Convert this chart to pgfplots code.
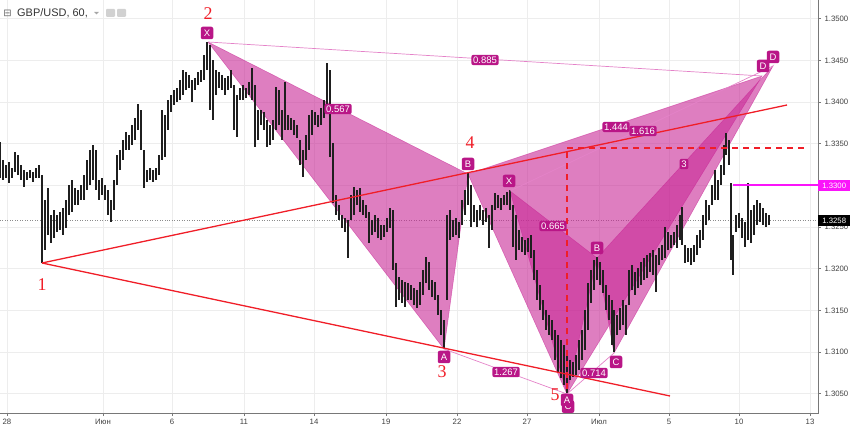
\documentclass[border=0pt]{standalone}
\usepackage{pgfplots}
\pgfplotsset{compat=1.18}
\usepackage{pgfplotstable}
\usepackage{fontspec}
\setmainfont{Liberation Sans}
\newfontfamily\serifnum{Liberation Serif}
\newfontfamily\dejavu{DejaVu Sans}
\definecolor{pat}{RGB}{200,40,150}
\definecolor{patlbl}{RGB}{185,22,135}
\definecolor{patline}{RGB}{228,130,200}
\definecolor{tvred}{RGB}{240,30,40}
\definecolor{tvmag}{RGB}{250,20,250}
\definecolor{axgray}{RGB}{120,120,120}
\pgfplotstableread{
x hi lo
0 1.33521 1.33089
3 1.33305 1.33065
6 1.33245 1.33089
9 1.33281 1.33029
12 1.33209 1.33089
15 1.33401 1.33161
18 1.33365 1.33125
21 1.33245 1.33065
24 1.33185 1.32981
27 1.33161 1.33065
30 1.33185 1.33089
33 1.33161 1.33041
36 1.33209 1.33089
39 1.33245 1.33089
42 1.33125 1.32069
45 1.32825 1.32225
48 1.32969 1.32405
51 1.32645 1.32309
54 1.32705 1.32369
57 1.32645 1.32441
60 1.32681 1.32465
63 1.32729 1.32405
66 1.32825 1.32489
69 1.33005 1.32645
72 1.33065 1.32681
75 1.32969 1.32765
78 1.32945 1.32765
81 1.33005 1.32825
84 1.33125 1.32825
87 1.33305 1.32945
90 1.33425 1.33005
93 1.33485 1.33065
96 1.33425 1.32945
99 1.33065 1.32825
102 1.33089 1.32885
105 1.33005 1.32825
108 1.32945 1.32645
111 1.32825 1.32561
114 1.33065 1.32705
117 1.33365 1.33005
120 1.33425 1.33185
123 1.33545 1.33305
126 1.33641 1.33425
129 1.33605 1.33425
132 1.33725 1.33485
135 1.33809 1.33545
138 1.33977 1.33665
141 1.33905 1.33425
144 1.33425 1.32969
147 1.33185 1.33041
150 1.33209 1.33065
153 1.33185 1.33041
156 1.33209 1.33065
159 1.33365 1.33125
162 1.33905 1.33305
165 1.33845 1.33341
168 1.34025 1.33665
171 1.34085 1.33881
174 1.34145 1.33965
177 1.34169 1.34001
180 1.34265 1.34025
183 1.34385 1.34085
186 1.34361 1.34145
189 1.34325 1.34169
192 1.34265 1.34001
195 1.34289 1.34145
198 1.34361 1.34205
201 1.34385 1.34241
204 1.34565 1.34265
207 1.34721 1.34385
210 1.34685 1.33905
213 1.34505 1.33785
216 1.34385 1.34085
219 1.34361 1.34169
222 1.34325 1.34145
225 1.34289 1.34085
228 1.34313 1.34145
231 1.34385 1.34169
234 1.34205 1.33665
237 1.34085 1.33581
240 1.34169 1.34025
243 1.34205 1.34025
246 1.34169 1.34049
249 1.34241 1.34085
252 1.34409 1.34025
255 1.34205 1.33461
258 1.33905 1.33545
261 1.33905 1.33725
264 1.33881 1.33665
267 1.33785 1.33461
270 1.33725 1.33485
273 1.33785 1.33545
276 1.34181 1.33665
279 1.34145 1.33725
282 1.33905 1.33545
285 1.34241 1.33665
288 1.33845 1.33665
291 1.33809 1.33665
294 1.33785 1.33605
297 1.33725 1.33569
300 1.33545 1.33245
303 1.33425 1.33101
306 1.33605 1.33305
309 1.33845 1.33425
312 1.33905 1.33605
315 1.33881 1.33725
318 1.33845 1.33701
321 1.33929 1.33725
324 1.34025 1.33809
327 1.34469 1.33905
330 1.34385 1.33341
333 1.33509 1.32789
336 1.32885 1.32645
339 1.32765 1.32585
342 1.32645 1.32489
345 1.32609 1.32441
348 1.32585 1.32129
351 1.32885 1.32585
354 1.32981 1.32645
357 1.32945 1.32765
360 1.32969 1.32681
363 1.32825 1.32645
366 1.32765 1.32609
369 1.32681 1.32309
372 1.32585 1.32405
375 1.32645 1.32441
378 1.32609 1.32369
381 1.32525 1.32345
384 1.32525 1.32381
387 1.32609 1.32441
390 1.32729 1.32489
393 1.32705 1.31985
396 1.32069 1.31541
399 1.31901 1.31625
402 1.31865 1.31589
405 1.31841 1.31541
408 1.31829 1.31625
411 1.31805 1.31625
414 1.31769 1.31565
417 1.31745 1.31529
420 1.31841 1.31565
423 1.31985 1.31685
426 1.32141 1.31829
429 1.32081 1.31745
432 1.31865 1.31661
435 1.31841 1.31625
438 1.31685 1.31445
441 1.31505 1.31205
444 1.31385 1.31049
447 1.32645 1.31625
450 1.32705 1.32345
453 1.32585 1.32381
456 1.32609 1.32405
459 1.32561 1.32369
462 1.32825 1.32525
465 1.32945 1.32645
468 1.33149 1.32765
471 1.33005 1.32501
474 1.32765 1.32561
477 1.32705 1.32501
480 1.32765 1.32585
483 1.32705 1.32525
486 1.32729 1.32561
489 1.32645 1.32249
492 1.32765 1.32465
495 1.32909 1.32705
498 1.32885 1.32729
501 1.32849 1.32705
504 1.32885 1.32765
507 1.32921 1.32765
510 1.32945 1.32705
513 1.32765 1.32261
516 1.32645 1.32105
519 1.32465 1.32225
522 1.32381 1.32201
525 1.32345 1.32165
528 1.32369 1.32201
531 1.32405 1.32129
534 1.32225 1.31865
537 1.31985 1.31625
540 1.31805 1.31505
543 1.31625 1.31385
546 1.31505 1.31265
549 1.31445 1.31205
552 1.31385 1.31145
555 1.31265 1.30905
558 1.31205 1.30761
561 1.31145 1.30689
564 1.31085 1.30605
567 1.30965 1.30509
570 1.30905 1.30665
573 1.30881 1.30701
576 1.30965 1.30725
579 1.31145 1.30785
582 1.31265 1.30905
585 1.31505 1.31025
588 1.31829 1.31265
591 1.31985 1.31589
594 1.32105 1.31745
597 1.32141 1.31865
600 1.32081 1.31805
603 1.31985 1.31709
606 1.31805 1.31505
609 1.31685 1.31385
612 1.31625 1.31085
614 1.31505 1.31001
617 1.31445 1.31205
620 1.31529 1.31265
623 1.31625 1.31325
626 1.31565 1.31205
629 1.31985 1.31565
632 1.32045 1.31745
635 1.31961 1.31685
638 1.32009 1.31769
641 1.32081 1.31805
644 1.32129 1.31865
647 1.32165 1.31889
650 1.32189 1.31961
653 1.32225 1.31925
656 1.32165 1.31721
659 1.32249 1.32045
662 1.32285 1.32105
665 1.32501 1.32129
668 1.32441 1.32225
671 1.32405 1.32249
674 1.32441 1.32285
677 1.32525 1.32249
680 1.32645 1.32345
682 1.32741 1.32285
685 1.32285 1.32069
688 1.32249 1.32081
691 1.32249 1.32045
694 1.32285 1.32081
697 1.32405 1.32165
700 1.32465 1.32249
703 1.32645 1.32345
706 1.32825 1.32525
709 1.32765 1.32585
712 1.33005 1.32765
715 1.33185 1.32825
718 1.33065 1.32825
721 1.33245 1.33005
724 1.33485 1.33125
726 1.33629 1.33365
729 1.33545 1.33245
731 1.33029 1.32105
733 1.32405 1.31925
736 1.32645 1.32441
739 1.32669 1.32489
742 1.32609 1.32369
745 1.32561 1.32261
748 1.33029 1.32345
751 1.32705 1.32309
754 1.32765 1.32405
757 1.32825 1.32525
760 1.32789 1.32561
763 1.32729 1.32525
766 1.32669 1.32501
769 1.32645 1.32525
}\bars
\tikzset{
  lbl/.style={fill=patlbl, text=white, rounded corners=2bp, inner sep=1.8bp, font=\fontsize{9.5}{10}\selectfont},
  ltr/.style={lbl, minimum width=12.5bp, minimum height=12.5bp, inner sep=0.5bp},
  rnum/.style={text=tvred, font=\serifnum\fontsize{18}{18}\selectfont},
}
\begin{document}
\begin{tikzpicture}
\useasboundingbox (0,0) rectangle (850bp,427bp);
\begin{axis}[
  at={(0,14bp)}, anchor=south west,
  scale only axis, width=818bp, height=413bp,
  xmin=0, xmax=818, ymin=1.30269, ymax=1.35225,
  axis line style={draw=none},
  xtick pos=bottom, ytick pos=right, yticklabel pos=right,
  xtick={7,103,172,244,314,386,457,527,599,669,739,810},
  xticklabels={28,Июн,6,11,14,19,22,27,Июл,5,10,13},
  ytick={1.305,1.31,1.315,1.32,1.325,1.33,1.335,1.34,1.345,1.35},
  yticklabels={1.3050,1.3100,1.3150,1.3200,1.3250,{},1.3350,1.3400,1.3450,1.3500},
  grid=major, major grid style={draw=black!7, line width=0.6bp},
  tick align=outside, major tick length=3bp,
  tick style={draw=axgray, line width=0.5bp},
  ticklabel style={font=\fontsize{7.8}{9}\selectfont, text=black!75},
  clip=false,
]
% frame lines
\draw[axgray, line width=0.8bp] (rel axis cs:0,0) -- (rel axis cs:1,0) -- (rel axis cs:1,1);
% last price line
\addplot[draw=black!45, dotted, line width=0.5bp] coordinates {(0,1.3258) (818,1.3258)};
% pattern 1 fills
\addplot[fill=pat, fill opacity=0.6, draw=pat, draw opacity=0.6, line width=0.5bp]
  coordinates {(208,1.34721) (444,1.31037) (468,1.33137) (208,1.34721)};
\addplot[fill=pat, fill opacity=0.6, draw=pat, draw opacity=0.6, line width=0.5bp]
  coordinates {(468,1.33137) (567,1.30497) (762,1.34313) (468,1.33137)};
% pattern 2 fills
\addplot[fill=pat, fill opacity=0.6, draw=pat, draw opacity=0.6, line width=0.5bp]
  coordinates {(510,1.32933) (567,1.30497) (597,1.32129) (510,1.32933)};
\addplot[fill=pat, fill opacity=0.6, draw=pat, draw opacity=0.6, line width=0.5bp]
  coordinates {(597,1.32129) (614,1.30989) (773,1.34433) (597,1.32129)};
% price bars (low to high)
\addplot[draw=none, mark=none, error bars/.cd, y dir=plus, y explicit, error mark=none,
  error bar style={draw=black!88, line width=1.5bp}]
  table[x=x, y=lo, y error plus expr=\thisrow{hi}-\thisrow{lo}] {\bars};
% magenta level
\addplot[draw=tvmag, line width=2bp, mark=none] coordinates {(733,1.3300) (818,1.3300)};
% thin ratio lines
\addplot[draw=patline, line width=0.7bp] coordinates {(208,1.34721) (762,1.34313)};
\addplot[draw=patline, line width=0.7bp] coordinates {(444,1.31037) (567,1.30497)};
\addplot[draw=patline, line width=0.7bp] coordinates {(510,1.32933) (773,1.34433)};
\addplot[draw=patline, line width=0.7bp] coordinates {(567,1.30497) (614,1.30989)};
% red trend lines
\addplot[draw=tvred, line width=1.3bp] coordinates {(42,1.32069) (787,1.33965)};
\addplot[draw=tvred, line width=1.3bp] coordinates {(42,1.32069) (670,1.30473)};
\addplot[draw=tvred, line width=1.2bp, dash pattern=on 6bp off 5bp] coordinates {(567,1.30425) (567,1.33449)};
\addplot[draw=tvred, line width=1.2bp, dash pattern=on 6bp off 5bp] coordinates {(567,1.33449) (808,1.33449)};
% red wave numbers
\node[rnum] at (axis cs:42,1.31805) {1};
\node[rnum] at (axis cs:208,1.35057) {2};
\node[rnum] at (axis cs:442,1.30761) {3};
\node[rnum] at (axis cs:470,1.33509) {4};
\node[rnum] at (axis cs:555,1.30485) {5};
% pattern point labels
\node[ltr] at (axis cs:207,1.34829) {X};
\node[ltr] at (axis cs:468,1.33257) {B};
\node[ltr] at (axis cs:444,1.30941) {A};
\node[ltr] at (axis cs:509,1.33053) {X};
\node[ltr] at (axis cs:597,1.32249) {B};
\node[ltr] at (axis cs:616,1.30881) {C};
\node[ltr] at (axis cs:568,1.30345) {C};
\node[ltr] at (axis cs:567,1.30425) {A};
\node[ltr] at (axis cs:763,1.34433) {D};
\node[ltr] at (axis cs:773,1.34541) {D};
% ratio labels
\node[lbl] at (axis cs:338,1.33917) {0.567};
\node[lbl] at (axis cs:485,1.34505) {0.885};
\node[lbl] at (axis cs:506,1.30761) {1.267};
\node[lbl] at (axis cs:553,1.32513) {0.665};
\node[lbl] at (axis cs:594,1.30749) {0.714};
\node[lbl] at (axis cs:616,1.33701) {1.444};
\node[lbl] at (axis cs:643,1.33653) {1.616};
\node[lbl] at (axis cs:684,1.33257) {3};
% price scale labels
\node[fill=tvmag, text=white, anchor=west, inner sep=1.5bp, minimum width=32bp, minimum height=11bp, font=\fontsize{7.8}{9}\selectfont] at (axis cs:818,1.3300) {1.3300};
\node[fill=black, text=white, anchor=west, inner sep=1.5bp, minimum width=32bp, minimum height=11bp, font=\fontsize{7.8}{9}\selectfont] at (axis cs:818,1.3258) {1.3258};
\end{axis}
% title
\node[anchor=center, text=black!60, font=\dejavu\fontsize{10}{10}\selectfont] at (7.5bp,414bp) {⊟};
\node[anchor=west, text=black!80, inner sep=0pt, font=\fontsize{11}{12}\selectfont] at (17bp,414bp) {GBP/USD, 60,};
\fill[black!35] (94bp,415bp) -- (99bp,415bp) -- (96.5bp,412.5bp) -- cycle;
\fill[black!18, rounded corners=1bp] (106bp,410bp) rectangle (115bp,418bp);
\fill[black!18, rounded corners=1bp] (117bp,410bp) rectangle (126bp,418bp);
\end{tikzpicture}
\end{document}
